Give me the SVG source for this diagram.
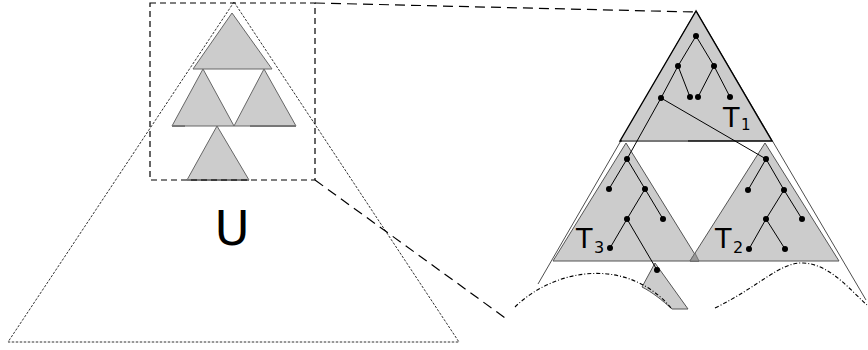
<svg xmlns="http://www.w3.org/2000/svg" width="868" height="350" viewBox="0 0 868 350">
<style>
.tri{fill:#cccccc;stroke:#666666;stroke-width:1}
.big{fill:#cccccc;stroke:#000000;stroke-width:1.4}
.sub{fill:#cccccc;stroke:#555555;stroke-width:1}
.edge{stroke:#000000;stroke-width:1;fill:none}
.thin{stroke:#000000;stroke-width:0.7;fill:none}
.dot{fill:#000000}
.fine{stroke:#333333;stroke-width:1;fill:none;stroke-dasharray:2.5 1.5}
.rect{stroke:#000000;stroke-width:1.2;fill:none;stroke-dasharray:6 4}
.conn{stroke:#000000;stroke-width:1.2;fill:none;stroke-dasharray:10 6}
.dd{stroke:#000000;stroke-width:1.1;fill:none;stroke-dasharray:4 2 1 2}
.lbl{font-family:"DejaVu Sans",sans-serif;fill:#000000}
.seg{stroke:#777777;stroke-width:2}
</style>
<defs>
<circle id="n" r="3" class="dot"/>
</defs>

<g id="universe">
<polygon class="fine" points="234,2 8,342 459,342"/>
<text class="lbl" x="232" y="245" font-size="48" text-anchor="middle">U</text>
</g>

<g id="small-triangles">
<polygon class="tri" points="232,13 193,69 272,69"/>
<polygon class="tri" points="203,69 172,126 234,126"/>
<polygon class="tri" points="264,69 234,126 296,126"/>
<polygon class="tri" points="217,126 187,180 249,180"/>
<line class="seg" x1="172" y1="126" x2="185" y2="126"/>
<line class="seg" x1="250" y1="126" x2="296" y2="126"/>
<line class="seg" x1="187" y1="180" x2="249" y2="180"/>
</g>

<g id="zoom-rect">
<rect class="rect" x="150" y="3" width="165" height="177"/>
</g>

<g id="outline">
<polyline class="thin" points="538,284 696,11 866,300"/>
</g>

<g id="T1">
<polygon class="big" points="696,11 620,141 772,141"/>
<line class="seg" x1="622" y1="141" x2="688" y2="141"/>
<text class="lbl" x="723" y="127" font-size="27">T</text>
<text class="lbl" x="741" y="130" font-size="15">1</text>
</g>

<g id="T3">
<polygon class="sub" points="626,143 553,261 699,261"/>
<path d="M655,263 L688,309 L672,309 C662,300 652,292 642,287 Z" class="sub"/>
<text class="lbl" x="576" y="248" font-size="27">T</text>
<text class="lbl" x="594" y="253" font-size="16">3</text>
</g>

<g id="T2">
<polygon class="sub" points="765,143 690,261 839,261"/>
<polygon points="690,261 695,253 699,261" fill="#999999" stroke="#666666" stroke-width="0.8"/>
<text class="lbl" x="715" y="248" font-size="27">T</text>
<text class="lbl" x="733" y="253" font-size="16">2</text>
</g>

<g id="curves">
<path class="dd" d="M515,307 C555,268 628,256 672,309"/>
<path class="dd" d="M715,308 C760,286 780,262 803,263 C830,264 850,290 867,305"/>
</g>

<g id="connectors">
<line class="conn" x1="315" y1="3" x2="694" y2="12"/>
<line class="conn" x1="315" y1="180" x2="508" y2="320"/>
<g id="tree-edges">
<polyline class="edge" points="661,98 678,66 696,36 714,66 730,97"/>
<line class="edge" x1="678" y1="66" x2="690" y2="97"/>
<line class="edge" x1="714" y1="66" x2="698" y2="97"/>
<line class="edge" x1="661" y1="98" x2="627" y2="159"/>
<line class="edge" x1="661" y1="98" x2="766" y2="159"/>
<polyline class="edge" points="609,189 627,159 645,189 663,219"/>
<polyline class="edge" points="645,189 627,219 610,248"/>
<line class="edge" x1="627" y1="219" x2="657" y2="270"/>
<polyline class="edge" points="748,190 766,159 784,190 802,219"/>
<polyline class="edge" points="784,190 766,219 749,249"/>
<line class="edge" x1="766" y1="219" x2="785" y2="249"/>
</g>
<g id="tree-nodes">
<use href="#n" x="696" y="36"/>
<use href="#n" x="678" y="66"/>
<use href="#n" x="714" y="66"/>
<use href="#n" x="661" y="98"/>
<use href="#n" x="690" y="97"/>
<use href="#n" x="698" y="97"/>
<use href="#n" x="730" y="97"/>
<use href="#n" x="627" y="159"/>
<use href="#n" x="609" y="189"/>
<use href="#n" x="645" y="189"/>
<use href="#n" x="627" y="219"/>
<use href="#n" x="663" y="219"/>
<use href="#n" x="610" y="248"/>
<use href="#n" x="657" y="270"/>
<use href="#n" x="766" y="159"/>
<use href="#n" x="748" y="190"/>
<use href="#n" x="784" y="190"/>
<use href="#n" x="766" y="219"/>
<use href="#n" x="802" y="219"/>
<use href="#n" x="749" y="249"/>
<use href="#n" x="785" y="249"/>
</g>
</g>
</svg>
